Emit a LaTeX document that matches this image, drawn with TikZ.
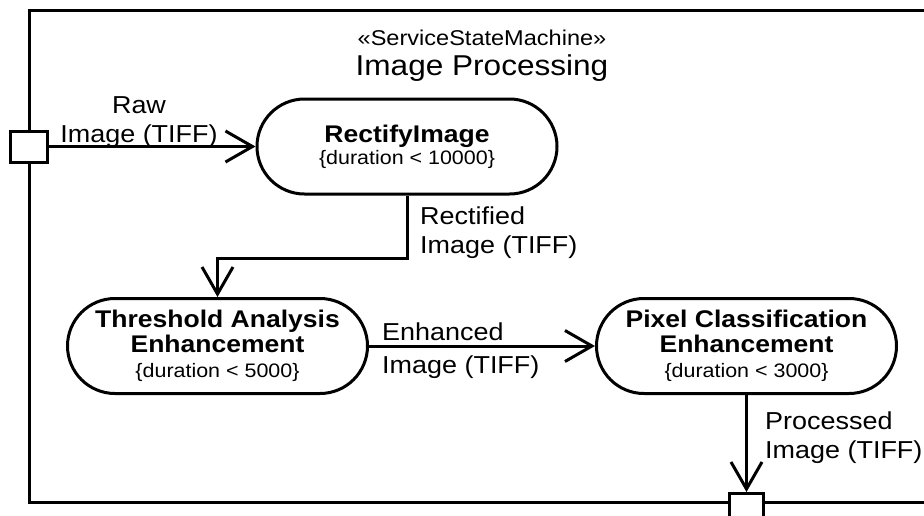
\documentclass[tikz,border=0pt]{standalone}
\usepackage{fontspec}
\setmainfont[FakeStretch=1.1]{Liberation Sans}
\usetikzlibrary{arrows.meta,positioning,calc}

\newcommand{\durtext}[1]{{\fontsize{19.5}{22}\selectfont\mdseries\{duration < #1\}}}

\begin{document}
\begin{tikzpicture}[x=1pt, y=-1pt,
    state/.style={draw, line width=3pt, fill=white, rounded corners=47.5pt,
        minimum width=300pt, minimum height=95pt, inner sep=0pt, align=center,
        font=\fontsize{24.1}{25}\selectfont\bfseries},
    port/.style={draw, line width=3pt, fill=white, minimum width=37pt,
        minimum height=31pt, inner sep=0pt},
    flow/.style={line width=3pt, -{Straight Barb[length=27pt, width=31pt]}},
    lbl/.style={inner sep=0pt, font=\fontsize{24.5}{28.5}\selectfont}]
    \path[use as bounding box, clip] (0,0) rectangle (924,515);

    % Frame and title
    \draw[line width=3pt] (924,10) -- (29,10) -- (29,502) -- (924,502);
    \node[anchor=base, font=\fontsize{21.4}{24}\selectfont] (stereo) at (482,45) {«ServiceStateMachine»};
    \node[anchor=base, font=\fontsize{28.7}{30}\selectfont] (title) at (482,75) {Image Processing};

    % States
    \node[state] (rectify) at (407,146.5) {RectifyImage\\[-3pt]\durtext{10000}};
    \node[state] (threshold) at (217.5,346) {Threshold Analysis\\Enhancement\\\durtext{5000}};
    \node[state] (pixel) at (746.5,346) {Pixel Classification\\Enhancement\\\durtext{3000}};

    % Ports
    \node[port] (inport) at (29,146.5) {};
    \node[port, minimum width=34pt, minimum height=37pt] (outport) at (746.5,512) {};
    \coordinate (bend) at (407,258);

    % Flows
    \draw[flow] (inport) -- (rectify);
    \draw[flow] (rectify.south) -- (bend) -| (threshold.north);
    \draw[flow] (threshold) -- (pixel);
    \draw[flow] (pixel) -- (outport);

    % Flow labels (base = last line)
    \node[lbl, align=center, anchor=base] (rawlbl) at (139,142) {Raw\\Image (TIFF)};
    \node[lbl, align=left, anchor=base west] (rectlbl) at (420,253) {Rectified\\Image (TIFF)};
    \node[lbl, align=left, anchor=base west] (enhlbl) at (382,373) {Enhanced\\[4.5pt]Image (TIFF)};
    \node[lbl, align=left, anchor=base west] (proclbl) at (765,458) {Processed\\Image (TIFF)};
\end{tikzpicture}
\end{document}
